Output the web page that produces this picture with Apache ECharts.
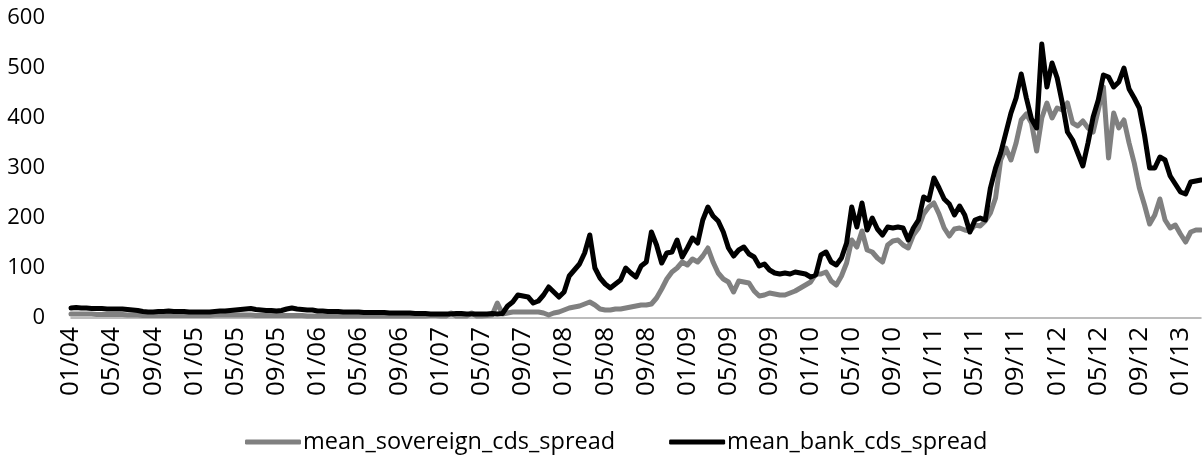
<!DOCTYPE html>
<html>
<head>
<meta charset="utf-8">
<script src="https://cdn.jsdelivr.net/npm/echarts@6/dist/echarts.min.js"></script>
<style>
html,body{margin:0;padding:0;background:#fff;}
#chart{width:1202px;height:459px;}
</style>
</head>
<body>
<div id="chart"></div>
<script>
// Tick labels shown every 4 months (every 8th half-month point)
var tickLabels = ['01/04','05/04','09/04','01/05','05/05','09/05','01/06','05/06','09/06',
  '01/07','05/07','09/07','01/08','05/08','09/08','01/09','05/09','09/09',
  '01/10','05/10','09/10','01/11','05/11','09/11','01/12','05/12','09/12','01/13'];

// Semi-monthly observations from Jan 2004 to early Mar 2013
var bankSpread = [
  20,21,20,20,19,19,19,18,18,18,
  18,17,16,15,13,12,12,13,13,14,
  13,13,13,12,12,12,12,12,13,14,
  14,15,16,17,18,19,17,16,15,15,
  14,15,18,20,18,17,16,16,14,14,
  13,13,13,12,12,12,12,11,11,11,
  11,11,10,10,10,10,10,9,9,9,
  8,8,8,8,8,9,9,8,8,8,
  8,8,9,8,9,24,32,46,44,42,
  30,34,46,62,52,42,52,84,96,108,
  130,166,100,80,68,60,68,76,100,90,
  82,104,112,172,146,110,130,132,156,122,
  140,160,150,196,222,204,194,172,140,124,
  136,142,128,122,104,108,96,90,88,90,
  88,92,90,88,82,86,126,132,112,106,
  120,150,222,182,230,176,200,178,166,182,
  180,182,180,156,180,196,242,236,280,260,
  238,228,206,224,206,172,196,200,196,260,
  300,330,370,410,440,488,440,398,380,548,
  462,510,480,430,372,356,330,304,350,402,
  436,486,482,462,472,500,458,440,420,366,
  300,300,322,316,284,268,252,248,272,274,
  276
];

var sovereignSpread = [
  8,8,8,8,8,7,7,7,7,7,
  7,6,6,6,5,5,5,5,5,5,
  5,5,5,5,5,5,5,5,6,6,
  6,6,6,6,6,6,5,5,5,5,
  5,5,5,5,5,5,4,4,4,4,
  4,4,4,4,4,4,4,4,4,4,
  4,4,4,4,4,4,4,4,4,4,
  5,5,4,4,10,4,4,4,10,4,
  4,5,6,30,8,10,12,12,12,12,
  12,12,10,6,10,12,16,20,22,24,
  28,32,26,18,16,16,18,18,20,22,
  24,26,26,28,40,58,78,92,100,112,
  106,118,112,124,140,112,90,78,72,52,
  74,72,70,54,44,46,50,48,46,46,
  50,54,60,66,72,88,88,92,74,66,
  84,110,156,142,174,136,132,120,112,146,
  154,156,146,140,166,180,208,222,230,208,
  180,164,178,180,176,174,186,184,194,210,
  240,316,340,316,350,396,408,390,334,400,
  430,400,420,416,430,390,384,394,380,372,
  416,462,320,410,380,396,350,310,260,226,
  188,206,238,196,180,186,168,152,172,176,
  176
];

var categories = bankSpread.map(function (v, i) { return String(i); });

var chart = echarts.init(document.getElementById('chart'));
chart.setOption({
  animation: false,
  backgroundColor: '#ffffff',
  grid: { left: 71, right: 1, top: 18, bottom: 141, containLabel: false },
  legend: {
    left: 240, top: 425,
    itemWidth: 56, itemHeight: 5, itemGap: 54,
    icon: 'roundRect',
    textStyle: { fontFamily: 'Open Sans', fontSize: 23.5, color: '#000', padding: [0, 0, 0, -3] },
    data: ['mean_sovereign_cds_spread', 'mean_bank_cds_spread']
  },
  xAxis: {
    type: 'category',
    data: categories,
    boundaryGap: false,
    axisLine: { show: true, lineStyle: { color: '#a6a6a6', width: 1.5 } },
    axisTick: { show: false },
    axisLabel: {
      rotate: 90,
      margin: 9,
      interval: 7,
      fontFamily: 'Open Sans',
      fontSize: 26,
      color: '#000',
      formatter: function (v, idx) {
        return idx % 8 === 0 ? (tickLabels[idx / 8] || '') : '';
      }
    },
    splitLine: { show: false }
  },
  yAxis: {
    type: 'value',
    min: 0, max: 600, interval: 100,
    axisLine: { show: false },
    axisTick: { show: false },
    splitLine: { show: false },
    axisLabel: { margin: 26, fontFamily: 'Open Sans', fontSize: 22, color: '#000' }
  },
  series: [
    {
      name: 'mean_sovereign_cds_spread',
      type: 'line',
      data: sovereignSpread,
      showSymbol: false,
      symbol: 'none',
      lineStyle: { color: '#808080', width: 5, join: 'round', cap: 'round' },
      itemStyle: { color: '#808080' }
    },
    {
      name: 'mean_bank_cds_spread',
      type: 'line',
      data: bankSpread,
      showSymbol: false,
      symbol: 'none',
      lineStyle: { color: '#000000', width: 5, join: 'round', cap: 'round' },
      itemStyle: { color: '#000000' }
    }
  ]
});
</script>
</body>
</html>
